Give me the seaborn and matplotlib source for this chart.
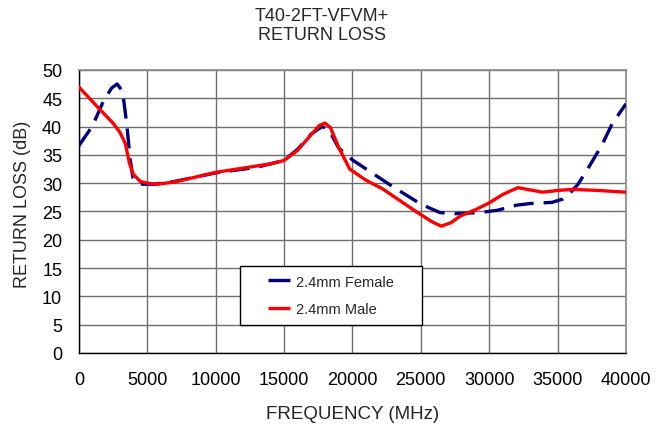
import matplotlib
matplotlib.use("Agg")
import matplotlib.pyplot as plt
from matplotlib.lines import Line2D
from matplotlib.patches import Rectangle
import seaborn as sns
import pandas as pd

female_freq = [0, 1000, 1800, 2400, 2800, 3200, 3500, 3750, 3950, 4300, 4700, 5500, 7000, 10000,
               13000, 15000, 16000, 17000, 17800, 18300, 19000, 20000, 23000, 25000, 26400,
               27500, 29300, 30600, 32000, 33000, 34600, 35400, 35900, 36500, 37200, 38200, 39000, 40000]
female_rl = [36.6, 40.1, 44.5, 46.8, 47.5, 46.2, 40.5, 34.3, 31.0, 30.0, 29.8, 29.8, 30.3, 31.8,
             32.8, 34.0, 36.0, 38.7, 40.0, 39.3, 36.2, 34.1, 29.3, 26.3, 24.8,
             24.6, 24.8, 25.2, 26.1, 26.4, 26.6, 27.2, 28.2, 29.8, 32.5, 36.5, 40.5, 44.0]

male_freq = [0, 1500, 2500, 3000, 3400, 3700, 4000, 4500, 5000, 5700, 7000, 10000, 14000, 15000,
             16000, 17000, 17600, 18000, 18400, 19000, 19800, 21000, 22200, 24700, 25800, 26500,
             27200, 27900, 29000, 30000, 31000, 32100, 33000, 33900, 35000, 36100, 38000, 40000]
male_rl = [47.0, 43.1, 40.6, 39.0, 37.0, 33.5, 31.5, 30.3, 30.0, 29.8, 30.2, 31.9, 33.4, 34.0,
           35.8, 38.6, 40.2, 40.6, 39.8, 36.3, 32.5, 30.5, 29.0, 24.9, 23.2, 22.4,
           23.0, 24.2, 25.3, 26.5, 28.0, 29.2, 28.8, 28.4, 28.7, 28.9, 28.7, 28.4]

series_names = ["2.4mm Female", "2.4mm Male"]
series_colors = ["#00007f", "#ff0000"]
title = "T40-2FT-VFVM+\nRETURN LOSS"
x_label = "FREQUENCY (MHz)"
y_label = "RETURN LOSS (dB)"
x_ticks = [0, 5000, 10000, 15000, 20000, 25000, 30000, 35000, 40000]
y_ticks = [0, 5, 10, 15, 20, 25, 30, 35, 40, 45, 50]

sns.set_theme(style="white")
plt.rcParams['font.family'] = ['Liberation Sans', 'DejaVu Sans']

df = pd.concat([
    pd.DataFrame({"freq": female_freq, "rl": female_rl, "series": series_names[0]}),
    pd.DataFrame({"freq": male_freq, "rl": male_rl, "series": series_names[1]}),
])

fig = plt.figure(figsize=(6.68, 4.27), dpi=100)
ax = fig.add_axes([0.118, 0.171, 0.819, 0.663])

sns.lineplot(data=df, x="freq", y="rl", hue="series", sort=False,
             palette=dict(zip(series_names, series_colors)),
             linewidth=2.4, ax=ax, legend=False)
lines = ax.get_lines()
lines[0].set_dashes([6, 3])
lines[0].set_zorder(3)
lines[1].set_zorder(4)

ax.set_xlim(0, 40000)
ax.set_ylim(0, 50)
ax.set_xticks(x_ticks)
ax.set_yticks(y_ticks)
ax.set_xticklabels([str(t) for t in x_ticks], fontsize=13)
ax.set_yticklabels([str(t) for t in y_ticks], fontsize=13)
ax.grid(True, color="#6e6e6e", linewidth=1.0)
ax.set_axisbelow(True)
for side in ["top", "right"]:
    ax.spines[side].set_color("#8c8c8c")
for side in ["left", "bottom"]:
    ax.spines[side].set_color("black")
    ax.spines[side].set_linewidth(1.0)
ax.tick_params(axis="both", direction="out", length=5, width=1, color="black", colors="black")
ax.tick_params(axis="y", pad=7)
ax.tick_params(axis="x", pad=8)

ax.set_xlabel(x_label, fontsize=13.5, labelpad=12)
ax.set_ylabel(y_label, fontsize=13, labelpad=8)
ax.yaxis.label.set_y(0.527)
fig.suptitle(title, x=0.482, y=0.982, va="top", fontsize=13, linespacing=1.2)

# legend frame and entries
ax.add_patch(Rectangle((0.294, 0.099), 0.333, 0.208, transform=ax.transAxes,
                       facecolor="white", edgecolor="black", linewidth=1.0, zorder=5))
handles = [Line2D([], [], color=c, linewidth=2.4, linestyle="-", solid_capstyle="butt")
           for c in series_colors]
leg = ax.legend(handles, series_names, loc="center left", bbox_to_anchor=(0.345, 0.203),
                fontsize=10.5, frameon=False, borderpad=0, labelspacing=0.95,
                handlelength=1.55, handletextpad=0.4, borderaxespad=0)
leg.set_zorder(6)

fig.savefig("out.png", dpi=100)
